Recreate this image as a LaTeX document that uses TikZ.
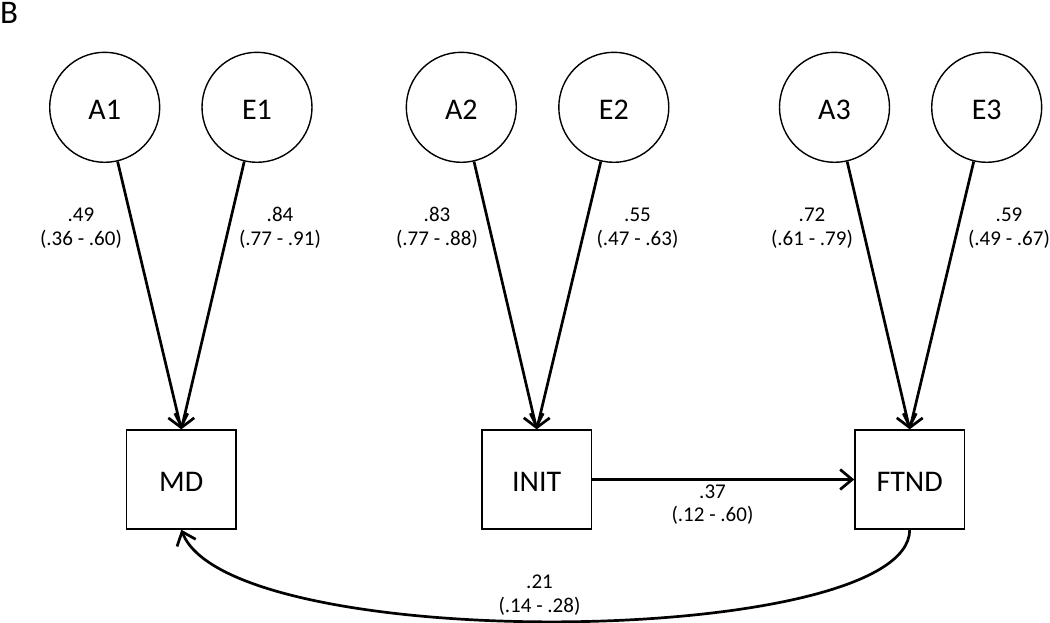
\documentclass[tikz,border=0pt]{standalone}
\usepackage{fontspec}
\setmainfont{Carlito}
\usetikzlibrary{arrows.meta}
\begin{document}
\begin{tikzpicture}[x=1pt,y=-1pt,
  latent/.style={circle,draw,line width=1.4pt,minimum size=110pt,inner sep=0pt,
    font=\fontsize{30}{36}\selectfont,text height=24pt,text depth=0pt},
  observed/.style={rectangle,draw,line width=1.4pt,minimum width=109.5pt,minimum height=99pt,
    inner sep=0pt,font=\fontsize{30}{36}\selectfont,text height=24pt,text depth=0pt},
  coef/.style={align=center,inner sep=0pt,font=\fontsize{21}{23.5}\selectfont},
  link/.style={line width=2.7pt,-{Straight Barb[length=12pt,width=20pt]}}]
\fill[white] (0,0) rectangle (1050,623);
\useasboundingbox (0,0) rectangle (1050,623);
\node[anchor=base west,inner sep=0pt,font=\fontsize{33}{36}\selectfont] (panel) at (0,23.5) {B};
% latent factors
\node[latent] (A1) at (104.7,107.3) {A1};
\node[latent] (E1) at (257,107.3) {E1};
\node[latent] (A2) at (461.3,107.3) {A2};
\node[latent] (E2) at (613.8,107.3) {E2};
\node[latent] (A3) at (834.5,107.3) {A3};
\node[latent] (E3) at (986.7,107.3) {E3};
% observed
\node[observed] (MD) at (181.3,479.5) {MD};
\node[observed] (INIT) at (536.7,479.5) {INIT};
\node[observed] (FTND) at (909.7,479.5) {FTND};
% paths
\draw[link] (A1) -- (MD.north);
\draw[link] (E1) -- (MD.north);
\draw[link] (A2) -- (INIT.north);
\draw[link] (E2) -- (INIT.north);
\draw[link] (A3) -- (FTND.north);
\draw[link] (E3) -- (FTND.north);
\draw[link] (INIT.east) -- (FTND.west);
\draw[link] (FTND.south) .. controls (909.7,648) and (230,656) .. (MD.south);
% coefficients
\node[coef] (c1) at (81,228) {.49\\(.36 - .60)};
\node[coef] (c2) at (280,228) {.84\\(.77 - .91)};
\node[coef] (c3) at (437,228) {.83\\(.77 - .88)};
\node[coef] (c4) at (637.5,228) {.55\\(.47 - .63)};
\node[coef] (c5) at (812,228) {.72\\(.61 - .79)};
\node[coef] (c6) at (1009,228) {.59\\(.49 - .67)};
\node[coef] (c7) at (712.5,504.5) {.37\\(.12 - .60)};
\node[coef] (c8) at (539.5,595) {.21\\(.14 - .28)};
\end{tikzpicture}
\end{document}
